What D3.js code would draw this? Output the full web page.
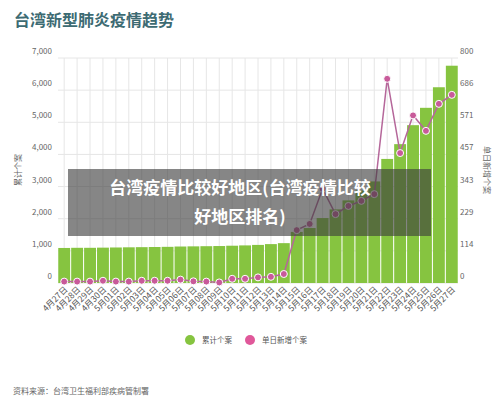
<!DOCTYPE html>
<html><head><meta charset="utf-8">
<script src="https://cdn.jsdelivr.net/npm/d3@7"></script>
<style>body{margin:0;background:#fff;font-family:"Noto Sans CJK SC","Noto Sans",sans-serif}</style>
</head><body><svg id="c" width="500" height="405"></svg>
<script>
// data
const days = ['4月27日','4月28日','4月29日','4月30日','5月01日','5月02日','5月03日','5月04日','5月05日','5月06日','5月07日','5月08日','5月09日','5月10日','5月11日','5月12日','5月13日','5月14日','5月15日','5月16日','5月17日','5月18日','5月19日','5月20日','5月21日','5月22日','5月23日','5月24日','5月25日','5月26日','5月27日']
const cumulative = [1090,1095,1095,1100,1105,1110,1115,1120,1125,1135,1140,1145,1150,1160,1170,1185,1210,1240,1590,1710,2020,2290,2570,2880,3160,3860,4320,4910,5450,6090,6760]
const daily = [5,5,5,8,5,5,8,8,8,12,6,5,2,15,15,20,22,32,188,210,335,245,274,292,316,726,462,596,541,637,669]
const leftTicks = [0,1000,2000,3000,4000,5000,6000,7000]
const rightTicks = [0,114,229,343,457,571,686,800]

const svg = d3.select('#c')
const mLeft = 58, mRight = 458, mTop = 58, mBottom = 283

svg.append('text').attr('x', 14).attr('y', 26).text('台湾新型肺炎疫情趋势')
  .attr('font-size', 16).attr('font-weight', 'bold').attr('fill', '#3d6b73')

const x = d3.scaleBand().domain(days).range([mLeft, mRight]).paddingInner(0.08).paddingOuter(0.02)
const yL = d3.scaleLinear().domain([0, 7000]).range([mBottom, mTop])
const yR = d3.scaleLinear().domain([0, 800]).range([mBottom, mTop])

// grid
const g = svg.append('g')
g.selectAll('.vg').data(days).enter().append('line')
  .attr('x1', d => x(d) + x.bandwidth() / 2).attr('x2', d => x(d) + x.bandwidth() / 2)
  .attr('y1', mTop).attr('y2', mBottom).attr('stroke', '#e6e6e6')
g.selectAll('.hg').data(leftTicks).enter().append('line')
  .attr('x1', mLeft).attr('x2', mRight).attr('y1', d => yL(d)).attr('y2', d => yL(d)).attr('stroke', '#e6e6e6')

g.selectAll('.lt').data(leftTicks).enter().append('text')
  .attr('x', 52).attr('y', d => yL(d) - 4).attr('text-anchor', 'end')
  .attr('font-size', 8).attr('fill', '#666').text(d => d3.format(',')(d))
g.selectAll('.rt').data(rightTicks).enter().append('text')
  .attr('x', 460).attr('y', (d, i) => yL(leftTicks[i]) - 4)
  .attr('font-size', 8).attr('fill', '#666').text(d => d)

svg.append('text').attr('transform', 'translate(21,170) rotate(-90)').attr('text-anchor', 'middle')
  .attr('font-size', 8).attr('fill', '#666').text('累计个案')
svg.append('text').attr('transform', 'translate(484,170) rotate(90)').attr('text-anchor', 'middle')
  .attr('font-size', 8).attr('fill', '#666').text('单日新增个案')

// bars
g.selectAll('.bar').data(cumulative).enter().append('rect')
  .attr('x', (d, i) => x(days[i])).attr('width', x.bandwidth())
  .attr('y', d => yL(d)).attr('height', d => mBottom - yL(d)).attr('fill', '#86c440')

// line
g.append('path').datum(daily)
  .attr('d', d3.line().x((d, i) => x(days[i]) + x.bandwidth() / 2).y(d => yR(d)))
  .attr('fill', 'none').attr('stroke', '#b5679a').attr('stroke-width', 1.5)
g.selectAll('.dot').data(daily).enter().append('circle')
  .attr('cx', (d, i) => x(days[i]) + x.bandwidth() / 2).attr('cy', d => yR(d))
  .attr('r', 3.5).attr('fill', '#c85a9a').attr('stroke', '#fff').attr('stroke-width', 1)

// x labels
g.selectAll('.xl').data(days).enter().append('text')
  .attr('transform', d => `translate(${x(d) + x.bandwidth() / 2 + 4},${mBottom + 7}) rotate(-45)`)
  .attr('text-anchor', 'end').attr('font-size', 8.5).attr('fill', '#555').text(d => d)

// legend
const lg = svg.append('g')
lg.append('circle').attr('cx', 190).attr('cy', 340).attr('r', 5).attr('fill', '#86c440')
lg.append('text').attr('x', 202).attr('y', 343).attr('font-size', 7.5).attr('fill', '#555').text('累计个案')
lg.append('circle').attr('cx', 250).attr('cy', 340).attr('r', 5).attr('fill', '#e0589a')
lg.append('text').attr('x', 262).attr('y', 343).attr('font-size', 7.5).attr('fill', '#555').text('单日新增个案')

svg.append('text').attr('x', 13).attr('y', 394).attr('font-size', 8).attr('fill', '#666').text('资料来源：台湾卫生福利部疾病管制署')

// overlay caption
svg.append('rect').attr('x', 68).attr('y', 169).attr('width', 363).attr('height', 67)
  .attr('fill', 'rgba(60,60,60,0.62)')
svg.append('text').attr('x', 240).attr('y', 194).attr('text-anchor', 'middle')
  .attr('font-size', 17).attr('font-weight', 'bold').attr('fill', '#fff').text('台湾疫情比较好地区(台湾疫情比较')
svg.append('text').attr('x', 240).attr('y', 223).attr('text-anchor', 'middle')
  .attr('font-size', 17).attr('font-weight', 'bold').attr('fill', '#fff').text('好地区排名)')
</script></body></html>
